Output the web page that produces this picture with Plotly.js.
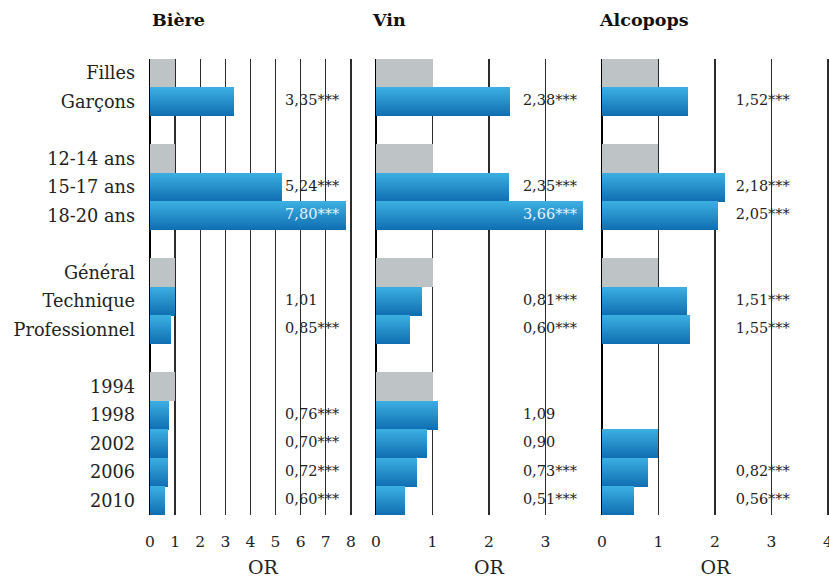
<!DOCTYPE html>
<html>
<head>
<meta charset="utf-8">
<script src="https://cdn.plot.ly/plotly-3.0.1.min.js"></script>
<style>
html,body{margin:0;padding:0;background:#fff;}
#chart{width:829px;height:578px;}
</style>
</head>
<body>
<div id="chart"></div>
<script>
// ---------- DATA ----------
const rows = ['Filles','Garçons',' ','12-14 ans','15-17 ans','18-20 ans','  ','Général','Technique','Professionnel','   ','1994','1998','2002','2006','2010'];
const refValue = 1;

const biereRefRows = ['Filles','12-14 ans','Général','1994'];
const biereRows = ['Garçons','15-17 ans','18-20 ans','Technique','Professionnel','1998','2002','2006','2010'];
const biereVals = [3.35, 5.24, 7.80, 1.01, 0.85, 0.76, 0.70, 0.72, 0.60];
const biereLabels = ['3,35***','5,24***','7,80***','1,01','0,85***','0,76***','0,70***','0,72***','0,60***'];
const biereTicks = [0,1,2,3,4,5,6,7,8];

const vinRefRows = ['Filles','12-14 ans','Général','1994'];
const vinRows = ['Garçons','15-17 ans','18-20 ans','Technique','Professionnel','1998','2002','2006','2010'];
const vinVals = [2.38, 2.35, 3.66, 0.81, 0.60, 1.09, 0.90, 0.73, 0.51];
const vinLabels = ['2,38***','2,35***','3,66***','0,81***','0,60***','1,09','0,90','0,73***','0,51***'];
const vinTicks = [0,1,2,3];

const alcoRefRows = ['Filles','12-14 ans','Général'];
const alcoRows = ['Garçons','15-17 ans','18-20 ans','Technique','Professionnel','2002','2006','2010'];
const alcoVals = [1.52, 2.18, 2.05, 1.51, 1.55, 1.00, 0.82, 0.56];
const alcoLabels = ['1,52***','2,18***','2,05***','1,51***','1,55***','','0,82***','0,56***'];
const alcoTicks = [0,1,2,3,4];

const panelTitles = ['Bière','Vin','Alcopops'];
const xTitle = 'OR';

// ---------- STYLE ----------
const W = 829, H = 578;
const FONT = 'DejaVu Serif';
const GREY = '#bec3c5';
const BLUE = 'rgb(36, 143, 206)';
const panels = [
  {name:'', refRows:biereRefRows, rows:biereRows, vals:biereVals, labels:biereLabels, ticks:biereTicks, range:[0,9], dom:[150,376], labelX:5.38, titleX:150},
  {name:'2', refRows:vinRefRows, rows:vinRows, vals:vinVals, labels:vinLabels, ticks:vinTicks, range:[0,4], dom:[376,602], labelX:2.6, titleX:370},
  {name:'3', refRows:alcoRefRows, rows:alcoRows, vals:alcoVals, labels:alcoLabels, ticks:alcoTicks, range:[0,4.02], dom:[602,829], labelX:2.37, titleX:597}
];

const traces = [];
const layout = {
  width: W, height: H,
  margin: {l:0, r:0, t:59, b:63},
  paper_bgcolor:'#fff', plot_bgcolor:'#fff',
  barmode:'overlay', bargap:0,
  showlegend:false,
  font:{family:FONT, color:'#1a1a1a'},
  annotations: []
};

panels.forEach((p, i) => {
  const xa = 'x' + p.name, ya = 'y' + p.name;
  traces.push({
    type:'bar', orientation:'h', xaxis:xa, yaxis:ya,
    y:p.refRows, x:p.refRows.map(() => refValue), width:1.02,
    marker:{color:GREY, line:{width:0}}, hoverinfo:'skip'
  });
  traces.push({
    type:'bar', orientation:'h', xaxis:xa, yaxis:ya,
    y:p.rows, x:p.vals, width:1.02,
    marker:{color:BLUE, line:{width:0}}, hoverinfo:'skip'
  });
  traces.push({
    type:'scatter', mode:'text', xaxis:xa, yaxis:ya,
    y:p.rows, x:p.rows.map(() => p.labelX),
    text:p.labels, textposition:'middle right',
    textfont:{family:FONT, size:14.5, color:p.vals.map(v => v >= p.labelX ? '#e8f4fb' : '#222')},
    cliponaxis:false, hoverinfo:'skip'
  });
  layout['xaxis' + p.name] = {
    domain:[p.dom[0]/W, p.dom[1]/W], range:p.range, anchor:ya,
    tickvals:p.ticks,
    showgrid:true, gridcolor:'#2b2b2b', gridwidth:1.3,
    zeroline:true, zerolinecolor:'#000', zerolinewidth:2,
    showline:false, ticks:'', ticklabelstandoff:15, ticklabeloverflow:'allow',
    tickfont:{family:FONT, size:15.5, color:'#222'},
    title:{text:xTitle, font:{family:FONT, size:19, color:'#222'}, standoff:11},
    fixedrange:true
  };
  layout['yaxis' + p.name] = {
    type:'category', categoryorder:'array', categoryarray:rows,
    range:[rows.length - 0.5, -0.5], autorange:false, anchor:xa,
    showgrid:false, zeroline:false, showline:false, ticks:'',
    showticklabels: i === 0, ticklabelstandoff:14,
    tickfont:{family:FONT, size:17.7, color:'#222'},
    fixedrange:true
  };
  if (i > 0) layout['yaxis' + p.name].matches = 'y';
  layout.annotations.push({
    xref:'paper', yref:'paper', x:p.titleX/W, y:(H - 63 - 20)/(H - 59 - 63),
    xanchor:'left', yanchor:'middle', showarrow:false,
    text:'<b>' + panelTitles[i] + '</b>',
    font:{family:FONT, size:17.5, color:'#111'}
  });
});

Plotly.newPlot('chart', traces, layout, {displayModeBar:false, staticPlot:true}).then(gd => {
  // vertical gradient on the blue bars
  const svg = gd.querySelector('svg.main-svg');
  const ns = 'http://www.w3.org/2000/svg';
  let defs = svg.querySelector('defs');
  if (!defs) { defs = document.createElementNS(ns, 'defs'); svg.insertBefore(defs, svg.firstChild); }
  const g = document.createElementNS(ns, 'linearGradient');
  g.setAttribute('id', 'blueGrad');
  g.setAttribute('x1', '0'); g.setAttribute('y1', '0'); g.setAttribute('x2', '0'); g.setAttribute('y2', '1');
  [['0%','#3cb0e2'],['100%','#0f6db1']].forEach(s => {
    const st = document.createElementNS(ns, 'stop');
    st.setAttribute('offset', s[0]); st.setAttribute('stop-color', s[1]);
    g.appendChild(st);
  });
  defs.appendChild(g);
  gd.querySelectorAll('.bars .point path').forEach(path => {
    const f = path.style.fill.replace(/\s/g, '');
    if (f === BLUE.replace(/\s/g, '')) path.style.fill = 'url(#blueGrad)';
  });
});
</script>
</body>
</html>
